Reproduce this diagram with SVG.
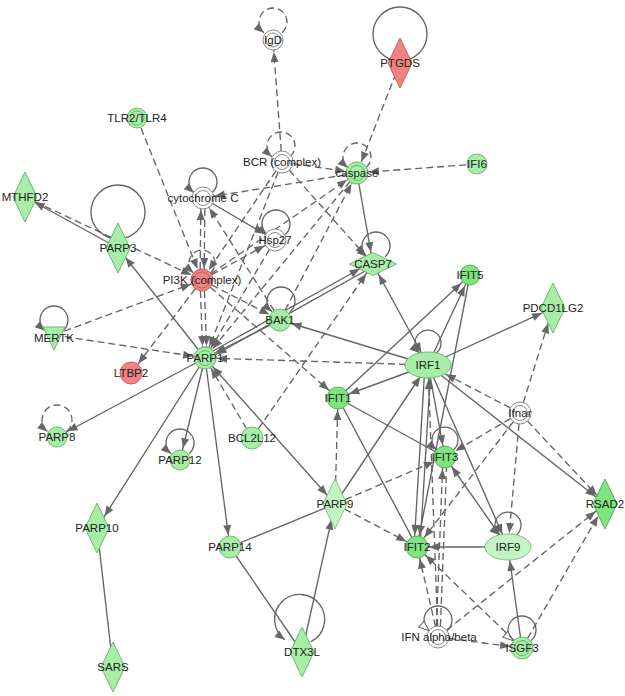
<svg xmlns="http://www.w3.org/2000/svg" width="625" height="696" viewBox="0 0 625 696">
<style>
.s{stroke:#646464;stroke-width:1.35;fill:none}
.d{stroke:#646464;stroke-width:1.35;fill:none;stroke-dasharray:7 4}
.g{fill:#a6eea6;stroke:#74b474;stroke-width:1}
.b{fill:#7ee47e;stroke:#5fae5f;stroke-width:1}
.p{fill:#c4f4c4;stroke:#86c086;stroke-width:1}
.r{fill:#f08282;stroke:#c06464;stroke-width:1}
.w{fill:#fff;stroke:#8a8a8a;stroke-width:1}
.i{fill:none;stroke:#74b474;stroke-width:1}
.iw{fill:none;stroke:#8a8a8a;stroke-width:1}
text{font-family:"Liberation Sans",Arial,sans-serif;font-size:11.5px;fill:#222;text-anchor:middle}
</style>
<defs>
<marker id="a0" markerUnits="userSpaceOnUse" markerWidth="10" markerHeight="8" refX="10" refY="4" orient="auto-start-reverse" overflow="visible"><path d="M0,0 L10,4 L0,8 z" fill="#666"/></marker>
<marker id="a10" markerUnits="userSpaceOnUse" markerWidth="10" markerHeight="8" refX="21" refY="4" orient="auto-start-reverse" overflow="visible"><path d="M0,0 L10,4 L0,8 z" fill="#666"/></marker>
<marker id="a12" markerUnits="userSpaceOnUse" markerWidth="10" markerHeight="8" refX="22" refY="4" orient="auto-start-reverse" overflow="visible"><path d="M0,0 L10,4 L0,8 z" fill="#666"/></marker>
<marker id="a14" markerUnits="userSpaceOnUse" markerWidth="10" markerHeight="8" refX="24" refY="4" orient="auto-start-reverse" overflow="visible"><path d="M0,0 L10,4 L0,8 z" fill="#666"/></marker>
<marker id="a16" markerUnits="userSpaceOnUse" markerWidth="10" markerHeight="8" refX="26" refY="4" orient="auto-start-reverse" overflow="visible"><path d="M0,0 L10,4 L0,8 z" fill="#666"/></marker>
<marker id="a20" markerUnits="userSpaceOnUse" markerWidth="10" markerHeight="8" refX="30" refY="4" orient="auto-start-reverse" overflow="visible"><path d="M0,0 L10,4 L0,8 z" fill="#666"/></marker>
<marker id="w0" markerUnits="userSpaceOnUse" markerWidth="11" markerHeight="9" refX="10" refY="4" orient="auto" overflow="visible"><path d="M0,0 L10,4 L0,8 z" fill="#fff" stroke="#666" stroke-width="1"/></marker>
</defs>
<rect width="625" height="696" fill="#fff"/>
<g id="connectors">
<path class="d" d="M282,32.7 A14,14 0 1 0 264,32.7" marker-end="url(#a0)"/>
<circle class="s" cx="400" cy="34" r="27"/>
<path class="d" d="M290,156.7 A14,14 0 1 0 272,156.7" marker-end="url(#a0)"/>
<path class="d" d="M366,167.7 A14,14 0 1 0 348,167.7" marker-end="url(#a0)"/>
<path class="s" d="M212,192.7 A14,14 0 1 0 194,192.7" marker-end="url(#a0)"/>
<path class="s" d="M285,234.7 A14,14 0 1 0 267,234.7" marker-end="url(#a0)"/>
<path class="d" d="M210.4,273 A13,13 0 1 0 193.6,273" marker-end="url(#a0)"/>
<path class="s" d="M385,256.7 A14,14 0 1 0 367,256.7" marker-end="url(#a0)"/>
<path class="s" d="M290,311.7 A14,14 0 1 0 272,311.7" marker-end="url(#a0)"/>
<path class="s" d="M63,330.7 A14,14 0 1 0 45,330.7" marker-end="url(#a0)"/>
<path class="d" d="M66.6,431.5 A15,15 0 1 0 47.4,431.5" marker-end="url(#a0)"/>
<path class="s" d="M189,453.7 A14,14 0 1 0 171,453.7" marker-end="url(#a0)"/>
<path class="s" d="M436.4,353 A13,13 0 1 0 419.6,353" marker-end="url(#a0)"/>
<path class="s" d="M453.4,450 A13,13 0 1 0 436.6,450" marker-end="url(#a0)"/>
<path class="s" d="M516.4,535 A13,13 0 1 0 499.6,535" marker-end="url(#a0)"/>
<path class="s" d="M447,630.7 A14,14 0 1 0 429,630.7" marker-end="url(#w0)"/>
<path class="s" d="M531,640.7 A14,14 0 1 0 513,640.7" marker-end="url(#w0)"/>
<circle class="s" cx="118" cy="212" r="27"/>
<path class="s" d="M311,641.7 A25,25 0 1 0 285,639.7" marker-end="url(#a0)"/>
<line class="d" x1="282" y1="162" x2="273" y2="40" marker-end="url(#a12)"/>
<line class="d" x1="400" y1="63" x2="357" y2="173" marker-end="url(#a12)"/>
<line class="d" x1="477" y1="164" x2="357" y2="173" marker-end="url(#a12)"/>
<line class="d" x1="282" y1="162" x2="357" y2="173" marker-end="url(#a12)"/>
<line class="d" x1="357" y1="173" x2="203" y2="198" marker-end="url(#a12)"/>
<line class="d" x1="282" y1="162" x2="373" y2="264" marker-end="url(#a12)"/>
<line class="s" x1="357" y1="173" x2="373" y2="264" marker-end="url(#a12)"/>
<line class="d" x1="357" y1="173" x2="205" y2="358" marker-end="url(#a12)"/>
<line class="d" x1="202" y1="280" x2="357" y2="173" marker-end="url(#a12)"/>
<line class="d" x1="280" y1="320" x2="357" y2="173" marker-end="url(#a12)"/>
<line class="d" x1="280" y1="320" x2="203" y2="198" marker-end="url(#a12)"/>
<line class="d" x1="282" y1="162" x2="205" y2="358" marker-end="url(#a12)"/>
<line class="d" x1="282" y1="162" x2="202" y2="280" marker-end="url(#a12)"/>
<line class="d" x1="275" y1="240" x2="205" y2="358" marker-end="url(#a12)"/>
<line class="s" x1="203" y1="198" x2="275" y2="240" marker-end="url(#a12)"/>
<line class="d" x1="202" y1="280" x2="275" y2="240" marker-end="url(#a12)"/>
<line class="d" x1="200" y1="280" x2="201" y2="198" marker-end="url(#a12)"/>
<line class="d" x1="205" y1="198" x2="204" y2="280" marker-end="url(#a12)"/>
<line class="d" x1="200" y1="280" x2="203" y2="358" marker-end="url(#a12)"/>
<line class="d" x1="204" y1="280" x2="207" y2="358" marker-end="url(#a12)"/>
<line class="d" x1="202" y1="280" x2="280" y2="320" marker-end="url(#a12)"/>
<line class="d" x1="202" y1="280" x2="131" y2="373" marker-end="url(#a12)"/>
<line class="d" x1="202" y1="280" x2="338" y2="398" marker-end="url(#a12)"/>
<line class="d" x1="137" y1="118" x2="202" y2="280" marker-end="url(#a12)"/>
<line class="d" x1="25" y1="197" x2="202" y2="280" marker-end="url(#a12)"/>
<line class="s" x1="118" y1="248" x2="25" y2="197" marker-end="url(#a10)"/>
<line class="d" x1="54" y1="335" x2="202" y2="280" marker-end="url(#a12)"/>
<line class="d" x1="54" y1="335" x2="205" y2="358" marker-end="url(#a12)"/>
<line class="s" x1="205" y1="358" x2="118" y2="248" marker-end="url(#a12)"/>
<line class="s" x1="205" y1="358" x2="57" y2="437" marker-end="url(#a12)"/>
<line class="s" x1="205" y1="358" x2="180" y2="460" marker-end="url(#a12)"/>
<line class="s" x1="205" y1="358" x2="97" y2="528" marker-end="url(#a14)"/>
<line class="s" x1="205" y1="358" x2="230" y2="547" marker-end="url(#a12)"/>
<line class="s" x1="205" y1="358" x2="335" y2="504" marker-start="url(#a12)" marker-end="url(#a12)"/>
<line class="s" x1="204" y1="356" x2="372" y2="262" marker-end="url(#a14)"/>
<line class="s" x1="374" y1="266" x2="206" y2="360" marker-end="url(#a12)"/>
<line class="s" x1="280" y1="320" x2="205" y2="358" marker-end="url(#a12)"/>
<line class="d" x1="252" y1="438" x2="205" y2="358" marker-end="url(#a12)"/>
<line class="d" x1="252" y1="438" x2="373" y2="264" marker-end="url(#a12)"/>
<line class="d" x1="428" y1="365" x2="205" y2="358" marker-end="url(#a12)"/>
<line class="s" x1="373" y1="264" x2="428" y2="365" marker-start="url(#a12)" marker-end="url(#a14)"/>
<line class="s" x1="428" y1="365" x2="280" y2="320" marker-end="url(#a12)"/>
<line class="s" x1="428" y1="365" x2="470" y2="275" marker-end="url(#a12)"/>
<line class="s" x1="428" y1="365" x2="553" y2="308" marker-end="url(#a12)"/>
<line class="s" x1="428" y1="365" x2="338" y2="398" marker-end="url(#a12)"/>
<line class="s" x1="428" y1="365" x2="445" y2="457" marker-end="url(#a12)"/>
<line class="s" x1="425" y1="365" x2="414" y2="547" marker-end="url(#a12)"/>
<line class="s" x1="420" y1="547" x2="431" y2="365" marker-end="url(#a14)"/>
<line class="s" x1="428" y1="365" x2="605" y2="504" marker-end="url(#a12)"/>
<line class="s" x1="428" y1="365" x2="508" y2="547" marker-end="url(#a14)"/>
<line class="s" x1="335" y1="504" x2="428" y2="365" marker-end="url(#a14)"/>
<line class="d" x1="520" y1="413" x2="428" y2="365" marker-end="url(#a20)"/>
<line class="d" x1="438" y1="637" x2="428" y2="365" marker-end="url(#a14)"/>
<line class="s" x1="338" y1="398" x2="470" y2="275" marker-end="url(#a12)"/>
<line class="s" x1="338" y1="398" x2="445" y2="457"/>
<line class="s" x1="338" y1="398" x2="417" y2="547"/>
<line class="s" x1="470" y1="275" x2="417" y2="547" marker-end="url(#a12)"/>
<line class="s" x1="445" y1="457" x2="508" y2="547" marker-start="url(#a12)" marker-end="url(#a14)"/>
<line class="s" x1="508" y1="547" x2="417" y2="547" marker-end="url(#a12)"/>
<line class="s" x1="522" y1="648" x2="508" y2="547" marker-end="url(#a14)"/>
<line class="d" x1="335" y1="504" x2="338" y2="398" marker-end="url(#a12)"/>
<line class="d" x1="335" y1="504" x2="445" y2="457" marker-end="url(#a12)"/>
<line class="d" x1="335" y1="504" x2="417" y2="547" marker-end="url(#a12)"/>
<line class="d" x1="520" y1="413" x2="445" y2="457" marker-end="url(#a12)"/>
<line class="d" x1="520" y1="413" x2="417" y2="547" marker-end="url(#a12)"/>
<line class="d" x1="520" y1="413" x2="508" y2="547" marker-end="url(#a14)"/>
<line class="d" x1="520" y1="413" x2="605" y2="504" marker-end="url(#a12)"/>
<line class="d" x1="520" y1="413" x2="553" y2="308" marker-end="url(#a16)"/>
<line class="d" x1="438" y1="637" x2="417" y2="547" marker-end="url(#a12)"/>
<line class="d" x1="436" y1="637" x2="443" y2="457" marker-end="url(#a12)"/>
<line class="d" x1="440" y1="637" x2="447" y2="457"/>
<line class="d" x1="438" y1="637" x2="522" y2="648" marker-end="url(#a12)"/>
<line class="d" x1="438" y1="637" x2="605" y2="504" marker-end="url(#a12)"/>
<line class="d" x1="522" y1="648" x2="417" y2="547" marker-end="url(#a12)"/>
<line class="d" x1="522" y1="648" x2="605" y2="504" marker-end="url(#a14)"/>
<line class="s" x1="230" y1="547" x2="335" y2="504"/>
<line class="s" x1="230" y1="547" x2="302" y2="652"/>
<line class="s" x1="302" y1="652" x2="335" y2="504" marker-end="url(#a16)"/>
<line class="s" x1="97" y1="528" x2="113" y2="667"/>
</g>
<g id="n-IgD"><circle class="w" cx="273" cy="40" r="10"/><circle class="iw" cx="273" cy="40" r="7"/><text x="273" y="44">IgD</text></g>
<g id="n-PTGDS"><polygon class="r" points="400,38 412,63 400,88 388,63"/><text x="400" y="67">PTGDS</text></g>
<g id="n-TLR2TLR4"><circle class="g" cx="137" cy="118" r="10"/><circle class="i" cx="137" cy="118" r="7"/><text x="137" y="122">TLR2/TLR4</text></g>
<g id="n-BCR"><circle class="w" cx="282" cy="162" r="11"/><circle class="iw" cx="282" cy="162" r="7.5"/><text x="282" y="166">BCR (complex)</text></g>
<g id="n-caspase"><circle class="g" cx="357" cy="173" r="11"/><circle class="i" cx="357" cy="173" r="7.5"/><text x="357" y="177">caspase</text></g>
<g id="n-IFI6"><circle class="g" cx="477" cy="164" r="10"/><text x="477" y="168">IFI6</text></g>
<g id="n-MTHFD2"><polygon class="g" points="25,172 37,197 25,222 13,197"/><text x="25" y="201">MTHFD2</text></g>
<g id="n-cytC"><circle class="w" cx="203" cy="198" r="11"/><circle class="iw" cx="203" cy="198" r="7.5"/><text x="203" y="202">cytochrome C</text></g>
<g id="n-PARP3"><polygon class="g" points="118,223 130,248 118,273 106,248"/><text x="118" y="252">PARP3</text></g>
<g id="n-Hsp27"><circle class="w" cx="275" cy="240" r="11"/><circle class="iw" cx="275" cy="240" r="7.5"/><text x="275" y="244">Hsp27</text></g>
<g id="n-PI3K"><circle class="r" cx="202" cy="280" r="11"/><circle fill="none" stroke="#c06464" cx="202" cy="280" r="8"/><text x="202" y="284">PI3K (complex)</text></g>
<g id="n-CASP7"><polygon class="g" points="349.5,264 373,252.5 396.5,264 373,275.5"/><text x="373" y="268">CASP7</text></g>
<g id="n-IFIT5"><circle class="b" cx="470" cy="275" r="10"/><text x="470" y="279">IFIT5</text></g>
<g id="n-PDCD1LG2"><polygon class="g" points="553,283 565,308 553,333 541,308"/><text x="553" y="312">PDCD1LG2</text></g>
<g id="n-BAK1"><circle class="g" cx="280" cy="320" r="11"/><text x="280" y="324">BAK1</text></g>
<g id="n-MERTK"><polygon class="g" points="43,327 65,327 54,350"/><text x="54" y="342">MERTK</text></g>
<g id="n-LTBP2"><circle class="r" cx="131" cy="373" r="11"/><text x="131" y="377">LTBP2</text></g>
<g id="n-PARP1"><circle class="g" cx="205" cy="358" r="11"/><circle class="i" cx="205" cy="358" r="7.5"/><text x="205" y="362">PARP1</text></g>
<g id="n-IRF1"><ellipse class="g" cx="428" cy="365" rx="23" ry="13"/><text x="428" y="369">IRF1</text></g>
<g id="n-IFIT1"><circle class="b" cx="338" cy="398" r="11"/><text x="338" y="402">IFIT1</text></g>
<g id="n-Ifnar"><circle class="w" cx="520" cy="413" r="11"/><circle class="iw" cx="520" cy="413" r="7.5"/><text x="520" y="417">Ifnar</text></g>
<g id="n-IFIT3"><circle class="b" cx="445" cy="457" r="11"/><text x="445" y="461">IFIT3</text></g>
<g id="n-PARP8"><circle class="g" cx="57" cy="437" r="10"/><text x="57" y="441">PARP8</text></g>
<g id="n-BCL2L12"><circle class="g" cx="252" cy="438" r="11"/><text x="252" y="442">BCL2L12</text></g>
<g id="n-PARP12"><circle class="g" cx="180" cy="460" r="10"/><text x="180" y="464">PARP12</text></g>
<g id="n-PARP10"><polygon class="g" points="97,503 109,528 97,553 85,528"/><text x="97" y="532">PARP10</text></g>
<g id="n-PARP9"><polygon class="p" points="335,479 347,504 335,529 323,504"/><text x="335" y="508">PARP9</text></g>
<g id="n-RSAD2"><polygon class="b" points="605,479 617,504 605,529 593,504"/><text x="605" y="508">RSAD2</text></g>
<g id="n-PARP14"><circle class="g" cx="230" cy="547" r="11"/><text x="230" y="551">PARP14</text></g>
<g id="n-IFIT2"><circle class="b" cx="417" cy="547" r="11"/><text x="417" y="551">IFIT2</text></g>
<g id="n-IRF9"><ellipse class="p" cx="508" cy="547" rx="23" ry="13"/><text x="508" y="551">IRF9</text></g>
<g id="n-IFNab"><circle class="w" cx="438" cy="637" r="11"/><circle class="iw" cx="438" cy="637" r="7.5"/><text x="439" y="641">IFN alpha/beta</text></g>
<g id="n-ISGF3"><circle class="g" cx="522" cy="648" r="11"/><circle class="i" cx="522" cy="648" r="7.5"/><text x="522" y="652">ISGF3</text></g>
<g id="n-SARS"><polygon class="g" points="113,642 125,667 113,692 101,667"/><text x="113" y="671">SARS</text></g>
<g id="n-DTX3L"><polygon class="g" points="302,627 314,652 302,677 290,652"/><text x="302" y="656">DTX3L</text></g>
</svg>
